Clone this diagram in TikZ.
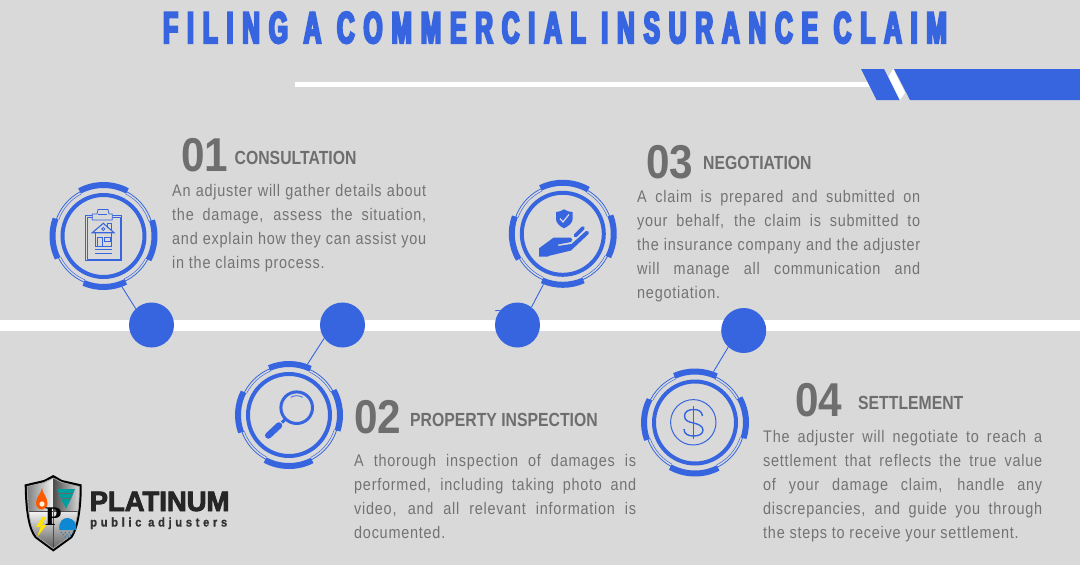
\documentclass[tikz,border=0pt]{standalone}
\usepackage{fontspec}
\usepackage{xcolor}
\setmainfont{Liberation Sans}
\newfontfamily\bodyfont[FakeStretch=0.86,LetterSpace=4.5]{Liberation Sans}
\newfontfamily\headfont[FakeStretch=0.83]{Liberation Sans Bold}
\newfontfamily\numfont[FakeStretch=0.89]{Liberation Sans Bold}
\newfontfamily\titlefont[FakeStretch=0.55,FakeBold=5,LetterSpace=20]{Liberation Sans Bold}
\newfontfamily\logofont[FakeStretch=0.98,FakeBold=3]{Liberation Sans Bold}
\newfontfamily\logosubfont[LetterSpace=29,FakeStretch=0.9,FakeBold=1]{Liberation Sans Bold}
\newfontfamily\crestfont{Liberation Serif Bold}
\definecolor{bggray}{HTML}{D9D9D9}
\definecolor{claimblue}{HTML}{3765DF}
\definecolor{textgray}{HTML}{737373}
\definecolor{numgray}{HTML}{6E6E6E}
\begin{document}
\begin{tikzpicture}[x=1pt,y=-1pt,
    badge/.style={shape=circle, inner sep=0pt, minimum size=108pt},
    stop/.style={shape=circle, inner sep=0pt, minimum size=45pt, fill=claimblue},
    link/.style={claimblue, line width=0.9pt},
    heavyarc/.style={claimblue, line width=6pt},
    thinarc/.style={claimblue, line width=0.8pt},
    iconline/.style={claimblue, line width=0.8pt},
    numtext/.style={anchor=base west, inner sep=0pt, text=numgray, font=\numfont\fontsize{47.5}{47.5}\selectfont},
    headtext/.style={anchor=base west, inner sep=0pt, text=numgray, font=\headfont\fontsize{19}{19}\selectfont},
    bodytext/.style={anchor=north west, inner sep=0pt, text=textgray, align=justify, font=\bodyfont\fontsize{16.8}{24}\selectfont}]
    \useasboundingbox (0,0) rectangle (1080,565);
    \fill[bggray] (0,0) rectangle (1080,565);
    \node[anchor=base west, inner sep=0pt, text=claimblue, font=\titlefont\fontsize{44.5}{44.5}\selectfont] (title) at (163,43) {FILING A COMMERCIAL INSURANCE CLAIM};
    \fill[white] (295,82.4) rectangle (872,86.8);
    \fill[claimblue] (861,69) -- (884,69) -- (899.5,100) -- (876.5,100) -- cycle;
    \fill[white] (888.5,76.5) -- (893.3,69) -- (905,92.8) -- (900,100) -- cycle;
    \fill[claimblue] (894,69) -- (1080,69) -- (1080,100) -- (910,100) -- cycle;
    \fill[white] (0,319.7) rectangle (1080,330.7);

    \foreach \n/\cx/\cy/\ra/\rb/\ta/\tb/\la/\lb/\ba/\bb in {
        1/103.5/236/-28/18/62/118/160/206/247/296,
        2/289/415/-18/29/65/113/153/200/242/297,
        3/562.8/233.8/-27/21/60/116/160/210/246/294,
        4/695/422.5/-18/29/65/114/153/200/241/297} {
      \node[badge] (badge\n) at (\cx,\cy) {};
      \draw[claimblue, line width=4pt] (\cx,\cy) circle[radius=41pt];
      \draw[thinarc] (\cx,\cy) circle[radius=50pt];
      \foreach \a/\b in {\ra/\rb,\ta/\tb,\la/\lb,\ba/\bb}
        \draw[heavyarc] (\cx,\cy) ++(\a:51pt) arc[start angle=\a, end angle=\b, radius=51pt];
      \pgfmathsetmacro{\wrapb}{\ra+360}
      \foreach \a/\b in {\rb/\ta,\tb/\la,\lb/\ba,\bb/\wrapb}
        \draw[thinarc, line width=0.5pt] (\cx,\cy) ++(\a:47.6pt) arc[start angle=\a, end angle=\b, radius=47.6pt];
    }
    \node[stop] (stop1) at (151.5,325) {};
    \node[stop] (stop2) at (342.5,325) {};
    \node[stop] (stop3) at (517.5,325) {};
    \node[stop] (stop4) at (743.7,330.5) {};
    \coordinate (stub) at (495,310.7);
    \draw[link] (badge1.-70) -- (stop1.134);
    \draw[link] (badge2.70) -- (stop2.216);
    \draw[link] (badge3.-111) -- (stop3.52);
    \draw[link] (badge4.70) -- (stop4.227);
    \draw[thinarc] (stub) -- (stop3.140);

    % clipboard
    \draw[iconline] (85,215) rectangle (121.7,260.7);
    \draw[iconline, line width=0.6pt] (86.8,217) rectangle (119.9,258.8);
    \draw[iconline, fill=bggray] (92.3,220) -- (92.3,214) -- (97,214) -- (98,209.5) -- (108,209.5) -- (109,214) -- (112.3,214) -- (112.3,220) -- cycle;
    \draw[iconline] (98,214) -- (107,214);
    \draw[iconline] (107.5,228) -- (107.5,223) -- (111.7,223) -- (111.7,230);
    \draw[iconline, line width=1.1pt] (92.3,232.7) -- (103.3,223.3) -- (114,232.7) -- cycle;
    \draw[iconline] (95,232.7) -- (95,246) -- (111.7,246) -- (111.7,232.7);
    \draw[iconline] (97.7,246) -- (97.7,237.7) -- (102.3,237.7) -- (102.3,246);
    \draw[iconline] (104.7,237.7) rectangle (110,241.7);
    \draw[iconline] (103.3,229) circle[radius=1.6pt];
    \draw[iconline] (95,249.3) -- (111.7,249.3);
    \draw[iconline] (95,253.3) -- (111.7,253.3);

    % magnifier
    \draw[claimblue, line width=3pt] (296.7,407.7) circle[radius=15.8pt];
    \draw[claimblue, line width=0.8pt] (296.7,407.7) ++(60:12pt) arc[start angle=60, end angle=120, radius=12pt];
    \draw[claimblue, line width=3pt] (286,418.5) -- (282,422.5);
    \draw[claimblue, line width=6.5pt, line cap=round] (279,425.5) -- (268.3,435.5);

    % hand and shield
    \fill[claimblue] (564,209.3) .. controls (560,211.5) and (558,212) .. (556,212) -- (556,219) .. controls (556,223) and (560,226.5) .. (564,228.3) .. controls (568,226.5) and (572.7,223) .. (572.7,219) -- (572.7,212) .. controls (570,212) and (568,211.5) .. (564,209.3) -- cycle;
    \draw[bggray, line width=1.2pt] (560,218.5) -- (563,222) -- (569,214.5);
    \fill[claimblue] (539,248.3) -- (553.5,237.7) -- (570.5,237.7) .. controls (572.5,237.7) and (573,241) .. (571,242) -- (558,244.5) -- (558,246) -- (571.5,244) -- (586,231) .. controls (588,230) and (590,232.5) .. (588.5,234) -- (571,250.5) -- (548.3,256) -- (548.3,256.7) -- (539,256.7) -- cycle;
    \draw[claimblue, line width=3.6pt, line cap=round] (575.5,235.5) -- (583,228);

    % dollar
    \draw[iconline, line width=1pt] (693.3,422.3) circle[radius=22.7pt];
    \draw[iconline, line width=1.2pt] (693.5,406) -- (693.5,438.5);
    \draw[iconline, line width=1.4pt] (702.5,416) .. controls (702,411) and (698,409.5) .. (693.5,409.5) .. controls (688,409.5) and (684.5,412) .. (684.5,416) .. controls (684.5,421) and (689,422) .. (693.5,423) .. controls (698,424) and (703,426) .. (703,430) .. controls (703,434) and (699,436) .. (693.5,436) .. controls (688,436) and (684,434) .. (684,429);

    \node[numtext] (num1) at (181,171) {01};
    \node[headtext] (head1) at (234.5,164.5) {CONSULTATION};
    \node[bodytext, text width=254pt] (body1) at (172,184) {An adjuster will gather details about\linebreak the damage, assess the situation,\linebreak and explain how they can assist you\linebreak in the claims process.};
    \node[numtext] (num2) at (354,433) {02};
    \node[headtext] (head2) at (410,426) {PROPERTY INSPECTION};
    \node[bodytext, text width=282pt] (body2) at (354,454) {A thorough inspection of damages is\linebreak performed, including taking photo and\linebreak video, and all relevant information is\linebreak documented.};
    \node[numtext] (num3) at (646,178) {03};
    \node[headtext] (head3) at (703,169) {NEGOTIATION};
    \node[bodytext, text width=283pt] (body3) at (637,190) {A claim is prepared and submitted on\linebreak your behalf, the claim is submitted to\linebreak the insurance company and the adjuster\linebreak will manage all communication and\linebreak negotiation.};
    \node[numtext] (num4) at (795,416) {04};
    \node[headtext] (head4) at (858,409) {SETTLEMENT};
    \node[bodytext, text width=279pt] (body4) at (763,430) {The adjuster will negotiate to reach a\linebreak settlement that reflects the true value\linebreak of your damage claim, handle any\linebreak discrepancies, and guide you through\linebreak the steps to receive your settlement.};

    % logo
    \fill[black] (53.3,475) -- (62,480) -- (81.7,484.5) .. controls (82,510) and (78,530) .. (72,538) -- (53.3,551.5) -- (35,538) .. controls (28,530) and (25,510) .. (24.7,484.5) -- (44,480) -- cycle;
    \begin{scope}
      \clip (53.3,478) -- (62,482.5) -- (79.3,486.5) .. controls (79.5,510) and (76,528) .. (70,536.5) -- (53.3,548.5) -- (37,536.5) .. controls (30,528) and (27.5,510) .. (27.3,486.5) -- (44,482.5) -- cycle;
      \shade[left color=black!55, right color=white!95!black] (24,475) rectangle (53.3,511.7);
      \shade[left color=black!70, right color=white!90!black] (53.3,475) rectangle (82,511.7);
      \shade[top color=white!95!black, bottom color=black!70] (24,511.7) rectangle (53.3,552);
      \shade[top color=white!90!black, bottom color=black!65] (53.3,511.7) rectangle (82,552);
      \draw[black!70, line width=0.7pt] (53.3,475) -- (53.3,552) (24,511.7) -- (82,511.7);
    \end{scope}
    \draw[black!35, line width=0.8pt] (53.3,478) -- (62,482.5) -- (79.3,486.5) .. controls (79.5,510) and (76,528) .. (70,536.5) -- (53.3,548.5) -- (37,536.5) .. controls (30,528) and (27.5,510) .. (27.3,486.5) -- (44,482.5) -- cycle;
    \fill[orange!70!red] (42,488) .. controls (42,493) and (47.5,497) .. (47.5,503) .. controls (47.5,507) and (45,509.5) .. (42,509.5) .. controls (38,509.5) and (36,506.5) .. (36,503) .. controls (36,497) and (41,494) .. (42,488) -- cycle;
    \fill[white!90!orange] (42,504) circle[radius=2.6pt];
    \fill[teal!75!cyan] (57.3,489) -- (75,489) -- (71,499) -- (66,508.5) -- (61,499) -- cycle;
    \draw[black!60, line width=0.5pt] (60,493) -- (72.5,493) (62,498) -- (70.5,498);
    \fill[yellow!85!orange] (42.7,516.7) -- (36,527) -- (40.7,526.7) -- (37.3,536.7) -- (46.7,525) -- (42,525) -- (45.5,517.5) -- cycle;
    \fill[cyan!70!blue] (59.5,530) .. controls (58,522) and (63,517.5) .. (68,518) .. controls (73,518.5) and (77.5,523) .. (76,530) -- cycle;
    \draw[cyan!60!blue, line width=1pt, dotted] (61,532) -- (66,538) (65,532) -- (69,538) (69,532) -- (71,536) (73,532) -- (73,535);
    \node[inner sep=0pt, text=black, font=\crestfont\fontsize{27}{27}\selectfont] (crest) at (53.3,516.5) {P};
    \node[anchor=base west, inner sep=0pt, text=black!85, font=\logofont\fontsize{28}{28}\selectfont] (logoname) at (89.5,511) {PLATINUM};
    \node[anchor=base west, inner sep=0pt, text=black!80, font=\logosubfont\fontsize{12.5}{12.5}\selectfont] (logosub) at (90,526.5) {public adjusters};
  \end{tikzpicture}
\end{document}
